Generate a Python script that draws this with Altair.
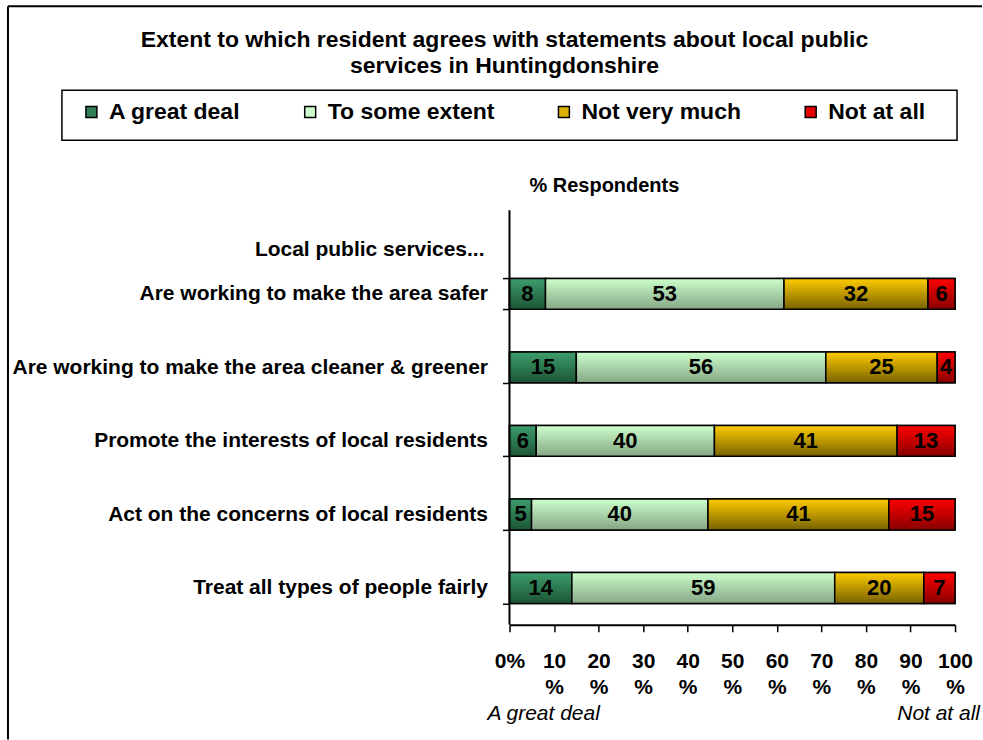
import altair as alt
import pandas as pd

statements = [
    "Are working to make the area safer",
    "Are working to make the area cleaner & greener",
    "Promote the interests of local residents",
    "Act on the concerns of local residents",
    "Treat all types of people fairly",
]
levels = ["A great deal", "To some extent", "Not very much", "Not at all"]
great_deal = [8, 15, 6, 5, 14]
some_extent = [53, 56, 40, 40, 59]
not_very_much = [32, 25, 41, 41, 20]
not_at_all = [6, 4, 13, 15, 7]
x_ticks = [0, 10, 20, 30, 40, 50, 60, 70, 80, 90, 100]

legend_colors = ["#2f7f57", "#ccffcc", "#dcb000", "#e80000"]
gradients = [
    ("#3d9d6c", "#1c5535"),
    ("#ccffcc", "#86a686"),
    ("#ffcc00", "#776200"),
    ("#ff0000", "#880000"),
]

series = [great_deal, some_extent, not_very_much, not_at_all]
rows = []
for i, s in enumerate(statements):
    for j, lvl in enumerate(levels):
        rows.append({"statement": s, "level": lvl, "order": j, "value": series[j][i]})
df = pd.DataFrame(rows)

FONT = "Liberation Sans"

base = (
    alt.Chart(df)
    .transform_joinaggregate(total="sum(value)", groupby=["statement"])
    .transform_window(
        cum="sum(value)", groupby=["statement"],
        sort=[alt.SortField("order")], frame=[None, 0]
    )
    .transform_calculate(
        x0="100 * (datum.cum - datum.value) / datum.total",
        x1="100 * datum.cum / datum.total",
        mid="100 * (datum.cum - datum.value / 2) / datum.total",
    )
)

x_enc = alt.X(
    "x0:Q",
    scale=alt.Scale(domain=[0, 100], nice=False),
    axis=alt.Axis(
        title=None, values=x_ticks, grid=False,
        labelExpr="datum.value == 0 ? '0%' : [datum.label, '%']",
        labelFont=FONT, labelFontSize=21, labelFontWeight="bold", labelColor="black",
        labelLineHeight=26, labelPadding=19, tickSize=7, tickColor="black",
        tickWidth=1.5, domainColor="black", domainWidth=2, labelFlush=False,
        labelOverlap=False,
    ),
)
y_enc = alt.Y(
    "statement:N",
    scale=alt.Scale(domain=statements, range=[47, 415], paddingInner=0.58, paddingOuter=0.29),
    axis=alt.Axis(
        title=None, domain=False, grid=False, tickBand="extent", tickSize=7, tickColor="black",
        tickWidth=1.5, labelPadding=15, labelFont=FONT, labelFontSize=21,
        labelFontWeight="bold", labelColor="black", labelLimit=600,
    ),
)

legend_layer = base.mark_bar(stroke="black", strokeWidth=1.5).encode(
    x=x_enc, x2="x1:Q", y=y_enc,
    color=alt.Color(
        "level:N",
        scale=alt.Scale(domain=levels, range=legend_colors),
        legend=alt.Legend(
            title=None, orient="none", legendX=-430, legendY=-110,
            direction="horizontal", columns=4, padding=0, columnPadding=58,
            labelFont=FONT, labelFontSize=23, labelFontWeight="bold",
            labelColor="black", labelLimit=400, labelOffset=6,
            symbolType="square", symbolSize=120, symbolStrokeColor="black",
            symbolStrokeWidth=1.5, symbolOpacity=1,
        ),
    ),
)

grad_layers = []
for lvl, (c0, c1) in zip(levels, gradients):
    g = alt.Gradient(
        gradient="linear", x1=0, x2=0, y1=0, y2=1,
        stops=[alt.GradientStop(color=c0, offset=0), alt.GradientStop(color=c1, offset=1)],
    )
    grad_layers.append(
        base.transform_filter(alt.datum.level == lvl)
        .mark_bar(fill=g, stroke="black", strokeWidth=1.5)
        .encode(x=x_enc, x2="x1:Q", y=y_enc)
    )

labels = base.mark_text(
    font=FONT, fontSize=22, fontWeight="bold", color="black", baseline="middle"
).encode(x=alt.X("mid:Q"), y=y_enc, text="value:Q")

one = alt.Data(values=[{"a": 1}])

def note(txt, x, y, align="center", size=19, style="normal"):
    return alt.Chart(one).mark_text(
        text=txt, font=FONT, fontSize=size, fontWeight="bold" if style == "normal" else "normal",
        fontStyle="italic" if style == "italic" else "normal",
        align=align, baseline="middle", color="black",
    ).encode(x=alt.value(x), y=alt.value(y))

notes = [
    note("Extent to which resident agrees with statements about local public", -5, -170, size=23),
    note("services in Huntingdonshire", -5, -144, size=23),
    note("% Respondents", 95, -24, size=20),
    note("Local public services...", -25, 40, align="right", size=21),
    note("A great deal", -22, 504, align="left", size=21, style="italic"),
    note("Not at all", 471, 504, align="right", size=21, style="italic"),
]

legend_box = alt.Chart(one).mark_rect(fill="white", stroke="black", strokeWidth=1.5).encode(
    x=alt.value(-448), x2=alt.value(448), y=alt.value(-120), y2=alt.value(-70)
)
y_line = alt.Chart(one).mark_rule(color="black", strokeWidth=2).encode(
    x=alt.value(0), y=alt.value(0), y2=alt.value(415)
)
frame_top = alt.Chart(one).mark_rule(color="black", strokeWidth=2).encode(
    x=alt.value(-502), x2=alt.value(473), y=alt.value(-204)
)
frame_left = alt.Chart(one).mark_rule(color="black", strokeWidth=2).encode(
    x=alt.value(-502), y=alt.value(-204), y2=alt.value(530)
)

chart = (
    alt.layer(legend_box, legend_layer, *grad_layers, labels, y_line, frame_top, frame_left, *notes)
    .properties(width=446, height=415, padding={"left": 7, "top": 5, "right": 0, "bottom": 0},
                background="white",
                view=alt.ViewBackground(stroke="transparent", strokeWidth=0, strokeOpacity=0))
    .configure_view(stroke="transparent", strokeWidth=0, strokeOpacity=0)
    .configure(font=FONT)
)

chart.save("out.html", embed_options={"renderer": "svg", "actions": False})
